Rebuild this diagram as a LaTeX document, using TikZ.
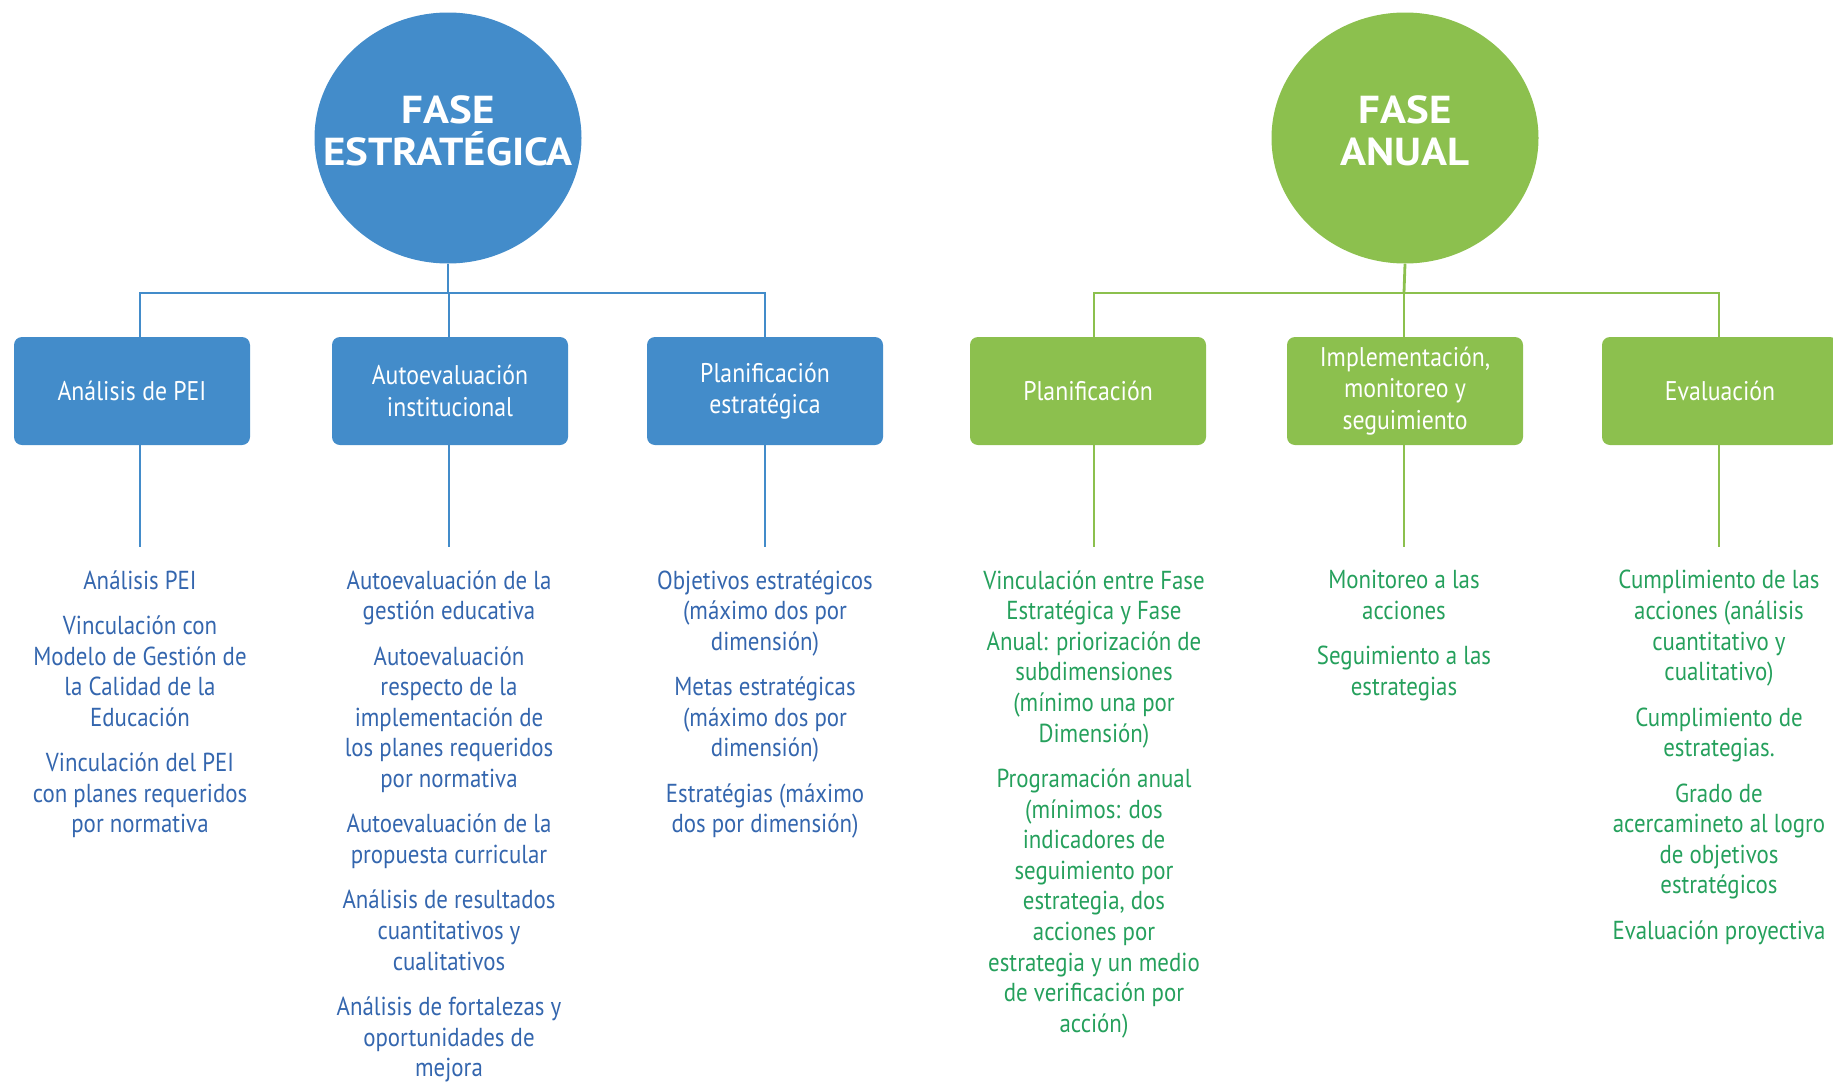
\documentclass[tikz,border=0pt]{standalone}
\usepackage{fontspec}
\setmainfont{PT Sans}
\newfontfamily\condfont[FakeStretch=0.88]{PT Sans}
\newfontfamily\widefont[FakeStretch=1.1]{PT Sans}
\usetikzlibrary{shapes.geometric}
\definecolor{azul}{HTML}{438CCA}
\definecolor{verde}{HTML}{8CC04E}
\definecolor{azultexto}{HTML}{3466AE}
\definecolor{verdetexto}{HTML}{25A05C}

\begin{document}
\begin{tikzpicture}[x=0.5pt, y=-0.5pt,
    fase/.style={ellipse, fill=#1, minimum width=133.5pt, minimum height=125.5pt, inner sep=0pt},
    titulo/.style={text=white, align=center, font=\widefont\fontsize{19.5}{21}\selectfont\bfseries},
    rama/.style={fill=#1, rounded corners=4pt, minimum width=118pt, minimum height=54pt, inner sep=0pt,
                 text=white, align=center, font=\condfont\fontsize{13.5}{15.8}\selectfont},
    lista/.style={text=#1, anchor=north, align=center, inner sep=0pt,
                  font=\condfont\fontsize{13}{15.3}\selectfont, execute at begin node=\rule{0pt}{13pt}},
    enlace/.style={draw=#1, line width=1.4pt}]
  \useasboundingbox (0,0) rectangle (1833,1082);

  % the two phases
  \node[fase=azul] (fasee) at (448,138) {};
  \node[titulo] (tfasee) at (448,131) {FASE\\ESTRATÉGICA};
  \node[fase=verde] (fasea) at (1405,138) {};
  \node[titulo] (tfasea) at (1405,131) {FASE\\ANUAL};
  \coordinate (be) at (448,293);
  \coordinate (ba) at (1404,293);
  \draw[enlace=azul] (fasee.south) -- (be);
  \draw[enlace=verde] (fasea.south) -- (ba);

  % boxes of each phase
  \foreach \n/\x/\t/\c in {pei/132/{Análisis de PEI}/azul,
                           autoev/450/{Autoevaluación\\institucional}/azul,
                           planest/765/{Planificación\\estratégica}/azul,
                           plan/1088/{Planificación}/verde,
                           impl/1405/{Implementación,\\monitoreo y\\seguimiento}/verde,
                           eval/1720/{Evaluación}/verde}
    \node[rama=\c] (\n) at (\x,391) {\t};

  % connectors, bar to box and box to list
  \foreach \n/\x/\r/\c in {pei/140/be/azul, autoev/449/be/azul, planest/765/be/azul,
                           plan/1094/ba/verde, impl/1404/ba/verde, eval/1719/ba/verde}
    { \coordinate (e\n) at (\x,547);
      \draw[enlace=\c] (\n.north -| e\n) |- (\r);
      \draw[enlace=\c] (\n.south -| e\n) -- (e\n); }

  % lists under the boxes
  \foreach \n/\x/\c/\t in {
      pei/140/azultexto/{Análisis PEI\\[7.4pt]Vinculación con\\Modelo de Gestión de\\la Calidad de la\\Educación\\[7.4pt]Vinculación del PEI\\con planes requeridos\\por normativa},
      autoev/449/azultexto/{Autoevaluación de la\\gestión educativa\\[7.4pt]Autoevaluación\\respecto de la\\implementación de\\los planes requeridos\\por normativa\\[7.4pt]Autoevaluación de la\\propuesta curricular\\[7.4pt]Análisis de resultados\\cuantitativos y\\cualitativos\\[7.4pt]Análisis de fortalezas y\\oportunidades de\\mejora},
      planest/765/azultexto/{Objetivos estratégicos\\(máximo dos por\\dimensión)\\[7.4pt]Metas estratégicas\\(máximo dos por\\dimensión)\\[7.4pt]Estratégias (máximo\\dos por dimensión)},
      plan/1094/verdetexto/{Vinculación entre Fase\\Estratégica y Fase\\Anual: priorización de\\subdimensiones\\(mínimo una por\\Dimensión)\\[7.4pt]Programación anual\\(mínimos: dos\\indicadores de\\seguimiento por\\estrategia, dos\\acciones por\\estrategia y un medio\\de verificación por\\acción)},
      impl/1404/verdetexto/{Monitoreo a las\\acciones\\[7.4pt]Seguimiento a las\\estrategias},
      eval/1719/verdetexto/{Cumplimiento de las\\acciones (análisis\\cuantitativo y\\cualitativo)\\[7.4pt]Cumplimiento de\\estrategias.\\[7.4pt]Grado de\\acercamineto al logro\\de objetivos\\estratégicos\\[7.4pt]Evaluación proyectiva}}
    \node[lista=\c] (l\n) at (\x,570) {\t};
\end{tikzpicture}
\end{document}
